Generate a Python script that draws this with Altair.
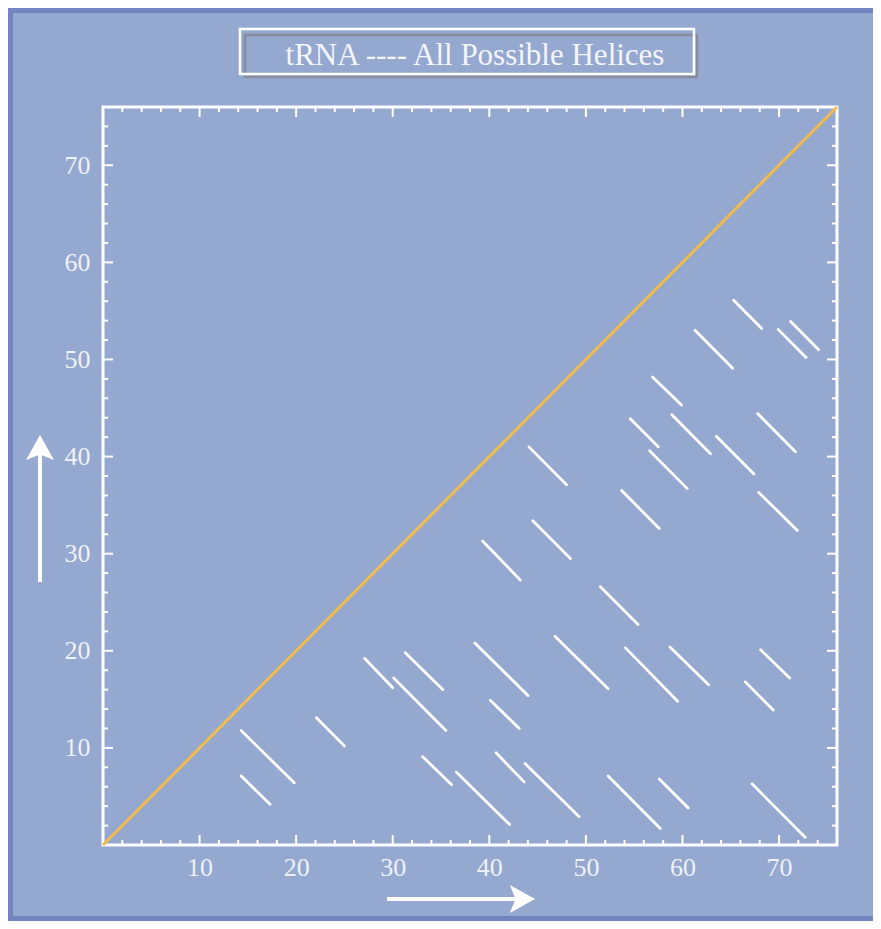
import altair as alt
import pandas as pd

# ---- data ----
helix_x_start = [65.3, 61.3, 69.9, 71.2, 56.9, 54.6, 58.9, 67.8, 63.5, 56.6, 44.1, 53.7,
                 67.9, 44.5, 39.3, 51.5, 38.5, 46.8, 54.1, 58.7, 68.1, 66.5, 31.3, 27.1,
                 30.1, 40.1, 22.1, 14.3, 14.3, 33.1, 36.6, 40.7, 43.7, 52.3, 57.6, 67.2]
helix_y_start = [56.1, 53.0, 53.1, 53.9, 48.2, 43.9, 44.3, 44.4, 42.1, 40.6, 41.0, 36.5,
                 36.3, 33.4, 31.3, 26.6, 20.8, 21.5, 20.3, 20.4, 20.1, 16.8, 19.8, 19.2,
                 17.2, 14.9, 13.1, 11.8, 7.1, 9.1, 7.5, 9.5, 8.4, 7.1, 6.8, 6.3]
helix_x_end = [68.2, 65.2, 72.8, 74.1, 59.9, 57.5, 62.9, 71.7, 67.4, 60.5, 48.0, 57.6,
               71.9, 48.4, 43.2, 55.4, 44.0, 52.3, 59.5, 62.7, 71.1, 69.4, 35.2, 30.0,
               35.5, 43.1, 25.0, 19.8, 17.3, 36.1, 42.1, 43.6, 49.3, 57.7, 60.6, 72.7]
helix_y_end = [53.2, 49.1, 50.2, 51.0, 45.3, 41.0, 40.3, 40.5, 38.2, 36.7, 37.1, 32.6,
               32.4, 29.5, 27.3, 22.7, 15.4, 16.1, 14.8, 16.5, 17.2, 13.9, 16.0, 16.2,
               11.8, 12.0, 10.2, 6.4, 4.2, 6.2, 2.1, 6.5, 2.9, 1.7, 3.8, 0.8]

diag_x = [0, 76]
diag_y = [0, 76]

axis_min = 0
axis_max = 76
major_ticks = [10, 20, 30, 40, 50, 60, 70]
minor_ticks = [v for v in range(2, 76, 2) if v % 10 != 0]

title_text = "tRNA ---- All Possible Helices"

# ---- style ----
BG = "#95a8d0"
DARK = "#7384c0"
WHITE = "#ffffff"
LABEL = "#eef1f7"
ORANGE = "#f2bb4c"
SERIF = "Liberation Serif"
W, H = 734, 738
MAJ, MIN = 10, 5

helices = pd.DataFrame({"x1": helix_x_start, "y1": helix_y_start,
                        "x2": helix_x_end, "y2": helix_y_end})
diag = pd.DataFrame({"x": diag_x, "y": diag_y})
majors = pd.DataFrame({"v": major_ticks})
minors = pd.DataFrame({"v": minor_ticks})
one = pd.DataFrame({"d": [0]})

xs = alt.Scale(domain=[axis_min, axis_max], nice=False, zero=False)
ys = alt.Scale(domain=[axis_min, axis_max], nice=False, zero=False)
xaxis = alt.Axis(values=major_ticks, title=None, ticks=False, tickSize=0, domain=False,
                 grid=False, labelFont=SERIF, labelFontSize=26, labelColor=LABEL,
                 labelPadding=9)
yaxis = alt.Axis(values=major_ticks, title=None, ticks=False, tickSize=0, domain=False,
                 grid=False, labelFont=SERIF, labelFontSize=26, labelColor=LABEL,
                 labelPadding=13)

diag_layer = alt.Chart(diag).mark_line(color=ORANGE, strokeWidth=3).encode(
    x=alt.X("x:Q", scale=xs, axis=xaxis),
    y=alt.Y("y:Q", scale=ys, axis=yaxis),
)

helix_layer = alt.Chart(helices).mark_rule(color=WHITE, strokeWidth=2.8, strokeCap="round").encode(
    x=alt.X("x1:Q", scale=xs, axis=xaxis),
    y=alt.Y("y1:Q", scale=ys, axis=yaxis),
    x2="x2:Q",
    y2="y2:Q",
)

tick_layers = []
for df, L in ((majors, MAJ), (minors, MIN)):
    tick_layers.append(alt.Chart(df).mark_rule(color=WHITE, strokeWidth=2).encode(
        x=alt.X("v:Q", scale=xs, axis=xaxis), y=alt.value(H), y2=alt.value(H - L)))
    tick_layers.append(alt.Chart(df).mark_rule(color=WHITE, strokeWidth=2).encode(
        x=alt.X("v:Q", scale=xs, axis=xaxis), y=alt.value(0), y2=alt.value(L)))
    tick_layers.append(alt.Chart(df).mark_rule(color=WHITE, strokeWidth=2).encode(
        y=alt.Y("v:Q", scale=ys, axis=yaxis), x=alt.value(0), x2=alt.value(L)))
    tick_layers.append(alt.Chart(df).mark_rule(color=WHITE, strokeWidth=2).encode(
        y=alt.Y("v:Q", scale=ys, axis=yaxis), x=alt.value(W), x2=alt.value(W - L)))

# outer dark frame (left, top, bottom edges only)
frame_left = alt.Chart(one).mark_rule(color=DARK, strokeWidth=5).encode(
    x=alt.value(-92.5), y=alt.value(-99), y2=alt.value(814))
frame_top = alt.Chart(one).mark_rule(color=DARK, strokeWidth=5).encode(
    y=alt.value(-96.5), x=alt.value(-95), x2=alt.value(780))
frame_bottom = alt.Chart(one).mark_rule(color=DARK, strokeWidth=5).encode(
    y=alt.value(811.5), x=alt.value(-95), x2=alt.value(780))

# title box with shadow
title_shadow = alt.Chart(one).mark_rect(fillOpacity=0, stroke="#878d9c", strokeWidth=2.5).encode(
    x=alt.value(142), x2=alt.value(594), y=alt.value(-72), y2=alt.value(-30))
title_box = alt.Chart(one).mark_rect(fillOpacity=0, stroke=WHITE, strokeWidth=2.5).encode(
    x=alt.value(137), x2=alt.value(591), y=alt.value(-78), y2=alt.value(-33))
title = alt.Chart(one).mark_text(text=title_text, font=SERIF, fontSize=31, color="#f3f5fa",
                                 align="center", baseline="alphabetic").encode(
    x=alt.value(372), y=alt.value(-42))

# arrows
ARROW = "M0,-0.9L1,0.9L0,0.5L-1,0.9Z"
up_shaft = alt.Chart(one).mark_rule(color=WHITE, strokeWidth=4).encode(
    x=alt.value(-63), y=alt.value(475), y2=alt.value(345))
up_head = alt.Chart(one).mark_point(shape=ARROW, size=784, filled=True, color=WHITE,
                                    opacity=1, strokeWidth=0).encode(
    x=alt.value(-63), y=alt.value(340.5))
right_shaft = alt.Chart(one).mark_rule(color=WHITE, strokeWidth=4).encode(
    x=alt.value(284), x2=alt.value(414), y=alt.value(792))
right_head = alt.Chart(one).mark_point(shape=ARROW, size=784, filled=True, color=WHITE,
                                       opacity=1, strokeWidth=0, angle=90).encode(
    x=alt.value(419.5), y=alt.value(792))

chart = alt.layer(
    frame_left, frame_top, frame_bottom, title_shadow, title_box, title,
    up_shaft, up_head, right_shaft, right_head,
    *tick_layers, diag_layer, helix_layer,
).properties(
    width=W, height=H,
    background=BG,
    padding={"left": 95, "top": 99, "right": 36, "bottom": 76},
    autosize=alt.AutoSizeParams(type="none"),
).configure_view(
    stroke=WHITE, strokeWidth=3, fill=BG,
)

chart.save("out.html", embed_options={"renderer": "svg", "actions": False})
